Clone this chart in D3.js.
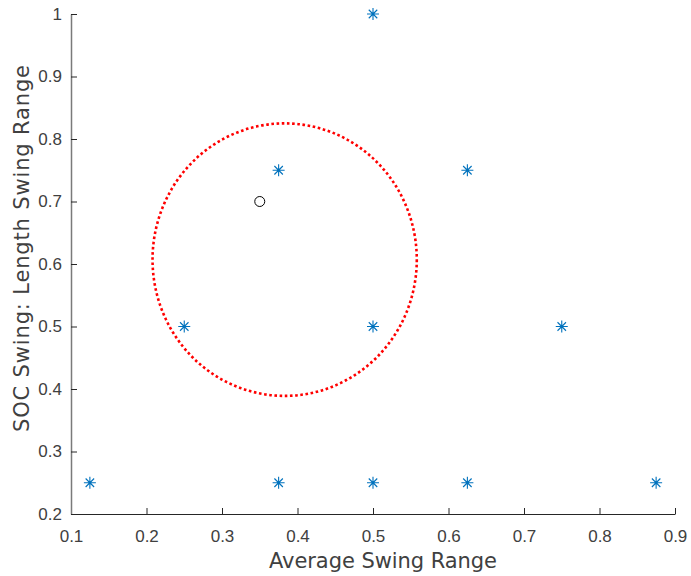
<!DOCTYPE html>
<html>
<head>
<meta charset="utf-8">
<script src="https://cdn.jsdelivr.net/npm/d3@7"></script>
<style>
  html, body { margin: 0; padding: 0; background: #fff; }
  svg { display: block; font-family: "DejaVu Sans", Verdana, sans-serif; }
</style>
</head>
<body>
<svg id="chart" width="691" height="576"></svg>
<script>
// Grid of tested swing configurations
const swingX = [0.125, 0.25, 0.375, 0.375, 0.5, 0.5, 0.5, 0.625, 0.625, 0.75, 0.875];
const swingY = [0.25, 0.5, 0.75, 0.25, 1.0, 0.5, 0.25, 0.75, 0.25, 0.5, 0.25];

// Selected operating point
const pointX = [0.35];
const pointY = [0.7];

// Region boundary (ellipse in data units)
const regionCenter = [0.383, 0.607];
const regionRadii = [0.175, 0.218];

const xTicks = [0.1, 0.2, 0.3, 0.4, 0.5, 0.6, 0.7, 0.8, 0.9];
const yTicks = [0.2, 0.3, 0.4, 0.5, 0.6, 0.7, 0.8, 0.9, 1];

const svg = d3.select("#chart");
const plotLeft = 71, plotRight = 675, plotTop = 14, plotBottom = 514;

const x = d3.scaleLinear().domain([0.1, 0.9]).range([plotLeft, plotRight]);
const y = d3.scaleLinear().domain([0.2, 1]).range([plotBottom, plotTop]);

const axisColor = "#262626";
const textColor = "#404040";
const fmt = d => String(+d.toFixed(1));

// X axis (ticks pointing inward)
const xAxis = svg.append("g")
  .attr("transform", `translate(0,${plotBottom})`)
  .call(d3.axisBottom(x).tickValues(xTicks).tickSizeInner(-6).tickSizeOuter(0)
        .tickPadding(16).tickFormat(fmt));
xAxis.select(".domain").attr("stroke", axisColor);
xAxis.selectAll(".tick line").attr("stroke", axisColor);
xAxis.selectAll("text").attr("fill", textColor).attr("font-size", 17);

// Y axis
const yAxis = svg.append("g")
  .attr("transform", `translate(${plotLeft},0)`)
  .call(d3.axisLeft(y).tickValues(yTicks).tickSizeInner(-6).tickSizeOuter(0)
        .tickPadding(9).tickFormat(fmt));
yAxis.select(".domain").attr("stroke", "#7a7a7a").attr("stroke-width", 1.5);
yAxis.selectAll(".tick line").attr("stroke", axisColor);
yAxis.selectAll("text").attr("fill", textColor).attr("font-size", 17);

// Axis titles
svg.append("text")
  .attr("x", 383).attr("y", 568)
  .attr("text-anchor", "middle").attr("font-size", 21).attr("fill", textColor)
  .attr("textLength", 228)
  .text("Average Swing Range");

svg.append("text")
  .attr("transform", `translate(29,248.5) rotate(-90)`)
  .attr("text-anchor", "middle").attr("font-size", 21).attr("fill", textColor)
  .attr("textLength", 367)
  .text("SOC Swing: Length Swing Range");

// Dotted region ellipse
svg.append("ellipse")
  .attr("cx", x(regionCenter[0]))
  .attr("cy", y(regionCenter[1]))
  .attr("rx", x(regionCenter[0] + regionRadii[0]) - x(regionCenter[0]))
  .attr("ry", y(regionCenter[1]) - y(regionCenter[1] + regionRadii[1]))
  .attr("fill", "none")
  .attr("stroke", "#ff0000")
  .attr("stroke-width", 2.6)
  .attr("stroke-dasharray", "2.6 2.6");

// Asterisk markers
const swingData = swingX.map((v, i) => ({ x: v, y: swingY[i] }));
const r = 6, rd = r * Math.SQRT1_2;
const star = `M${-r},0L${r},0M0,${-r}L0,${r}M${-rd},${-rd}L${rd},${rd}M${-rd},${rd}L${rd},${-rd}`;
svg.append("g").selectAll("path")
  .data(swingData).join("path")
  .attr("transform", d => `translate(${x(d.x)},${y(d.y)})`)
  .attr("d", star)
  .attr("fill", "none")
  .attr("stroke", "#0072BD")
  .attr("stroke-width", 1.1);

// Open circle marker
svg.append("g").selectAll("circle")
  .data(pointX.map((v, i) => ({ x: v, y: pointY[i] }))).join("circle")
  .attr("cx", d => x(d.x)).attr("cy", d => y(d.y))
  .attr("r", 5)
  .attr("fill", "none")
  .attr("stroke", "#000")
  .attr("stroke-width", 1);
</script>
</body>
</html>
